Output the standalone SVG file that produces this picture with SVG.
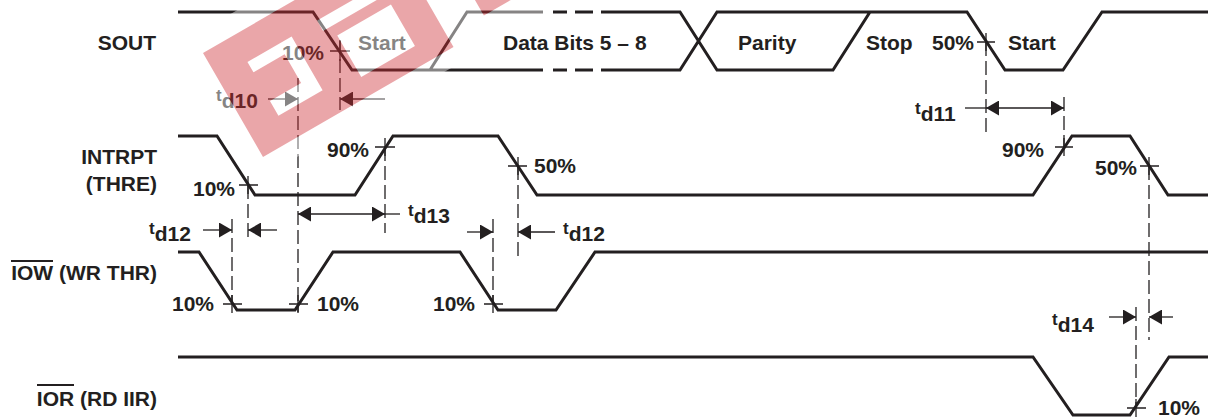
<svg xmlns="http://www.w3.org/2000/svg" width="1214" height="419" viewBox="0 0 1214 419">
<style>
.w{fill:none;stroke:#231f20;stroke-width:3;stroke-linejoin:miter;stroke-linecap:butt}
.d{fill:none;stroke:#231f20;stroke-width:1.3;stroke-dasharray:14 5}
.x{fill:none;stroke:#231f20;stroke-width:1.3}
.ov{stroke:#231f20;stroke-width:2}
text{font-family:"Liberation Sans",Arial,Helvetica,sans-serif;font-weight:bold;font-size:21px;fill:#231f20}
.t{font-size:17px}
.e{text-anchor:end}
</style>
<defs>
<marker id="ah" viewBox="0 0 13 15" refX="13" refY="7.5" markerWidth="13" markerHeight="15" markerUnits="userSpaceOnUse" orient="auto-start-reverse">
<path d="M0,0 L13,7.5 L0,15 Z" fill="#231f20"/>
</marker>
</defs>
<rect width="1214" height="419" fill="#fff"/>

<g id="sout">
<text class="e" x="156" y="50">SOUT</text>
<path class="w" d="M178,12 H313 L352,70 H543 M430,70 L467,12 H543 M553,12 H567 M575,12 H593 M553,70 H567 M575,70 H593 M601,12 H680 L717,70 H833 L870,12 H967 L1005,70 H1063 L1102,12 H1208 M601,70 H680 L717,12 H870"/>
<text x="282" y="60">10%</text>
<text x="358" y="50">Start</text>
<text x="503" y="50">Data Bits 5 – 8</text>
<text x="738" y="50">Parity</text>
<text x="866" y="50">Stop</text>
<text x="932" y="50">50%</text>
<text x="1008" y="50">Start</text>
<path class="x" d="M330,51 H350 M340,41 V61 M977,42 H995 M986,33 V51"/>
</g>

<g id="intrpt">
<text class="e" x="157" y="164">INTRPT</text>
<text class="e" x="157" y="191">(THRE)</text>
<path class="w" d="M178,136 H217 L255,195 H355 L393,136 H498 L537,195 H1033 L1072,136 H1130 L1168,195 H1208"/>
<text x="193" y="196">10%</text>
<text x="327" y="157">90%</text>
<text x="534" y="173">50%</text>
<text x="1002" y="157">90%</text>
<text x="1095" y="175">50%</text>
<path class="x" d="M239,185 H258 M248,176 V194 M375,147 H395 M385,138 V156 M508,166 H527 M518,157 V175 M1055,147 H1073 M1064,138 V156 M1140,166 H1159 M1149,157 V175"/>
</g>

<g id="iow">
<text class="e" x="157" y="280">IOW (WR THR)</text>
<line class="ov" x1="11" y1="261" x2="53" y2="261"/>
<path class="w" d="M178,252 H199 L237,310 H295 L333,252 H460 L498,310 H556 L595,252 H1208"/>
<text x="172" y="311">10%</text>
<text x="317" y="311">10%</text>
<text x="433" y="311">10%</text>
<path class="x" d="M223,304 H242 M232,295 V313 M289,304 H308 M298,295 V313 M484,304 H503 M493,295 V313"/>
</g>

<g id="ior">
<text class="e" x="157" y="406">IOR (RD IIR)</text>
<line class="ov" x1="37" y1="385" x2="74" y2="385"/>
<path class="w" d="M178,357 H1033 L1073,415 H1130 L1169,357 H1208"/>
<text x="1158" y="415">10%</text>
<path class="x" d="M1127,408 H1146 M1136,399 V417"/>
</g>

<g id="connectors">
<path class="d" d="M340,40 V110"/>
<path class="d" d="M298,78 V312"/>
<path class="d" d="M248,185 V238"/>
<path class="d" d="M232,219 V304"/>
<path class="d" d="M385,147 V233"/>
<path class="d" d="M518,166 V257"/>
<path class="d" d="M493,219 V304"/>
<path class="d" d="M986,42 V133"/>
<path class="d" d="M1064,97 V147"/>
<path class="d" d="M1149,166 V340"/>
<path class="d" d="M1136,307 V408"/>

<g id="td10">
<path class="x" d="M268,99 H298" marker-end="url(#ah)"/>
<path class="x" d="M385,99 H340" marker-end="url(#ah)"/>
<text x="216" y="101"><tspan class="t">t</tspan><tspan dy="7">d10</tspan></text>
</g>
<g id="td11">
<path class="x" d="M965,108 H986"/>
<path class="x" d="M986,108 H1064" marker-start="url(#ah)" marker-end="url(#ah)"/>
<text x="915" y="114"><tspan class="t">t</tspan><tspan dy="7">d11</tspan></text>
</g>
<g id="td12a">
<path class="x" d="M203,230 H232" marker-end="url(#ah)"/>
<path class="x" d="M277,230 H248" marker-end="url(#ah)"/>
<text x="149" y="234"><tspan class="t">t</tspan><tspan dy="7">d12</tspan></text>
</g>
<g id="td13">
<path class="x" d="M298,214 H385" marker-start="url(#ah)" marker-end="url(#ah)"/>
<path class="x" d="M385,214 H400"/>
<text x="408" y="216"><tspan class="t">t</tspan><tspan dy="7">d13</tspan></text>
</g>
<g id="td12b">
<path class="x" d="M467,232 H493" marker-end="url(#ah)"/>
<path class="x" d="M555,232 H518" marker-end="url(#ah)"/>
<text x="563" y="234"><tspan class="t">t</tspan><tspan dy="7">d12</tspan></text>
</g>
<g id="td14">
<path class="x" d="M1109,317 H1136" marker-end="url(#ah)"/>
<path class="x" d="M1173,317 H1149" marker-end="url(#ah)"/>
<text x="1052" y="325"><tspan class="t">t</tspan><tspan dy="7">d14</tspan></text>
</g>
</g>

<g id="watermark" transform="translate(203,53) rotate(-30)">
<path fill="#fff" fill-opacity="0.45" fill-rule="evenodd" d="M-15,-20 H335 V137 H-15 Z M0,0 H220 V120 H0 Z M34,30 H85 V92 H34 V75 H70 V42 H34 Z M115,29 H200 V41 H115 Z M125,52 H187 V100 H125 Z M262,0 H330 V108 H262 Z"/>
<path fill="#cc2a33" fill-opacity="0.42" fill-rule="evenodd" d="M0,0 H220 V120 H0 Z M34,30 H85 V92 H34 V75 H70 V42 H34 Z M115,29 H200 V41 H115 Z M125,52 H187 V100 H125 Z M262,0 H330 V108 H262 Z"/>
</g>
</svg>
